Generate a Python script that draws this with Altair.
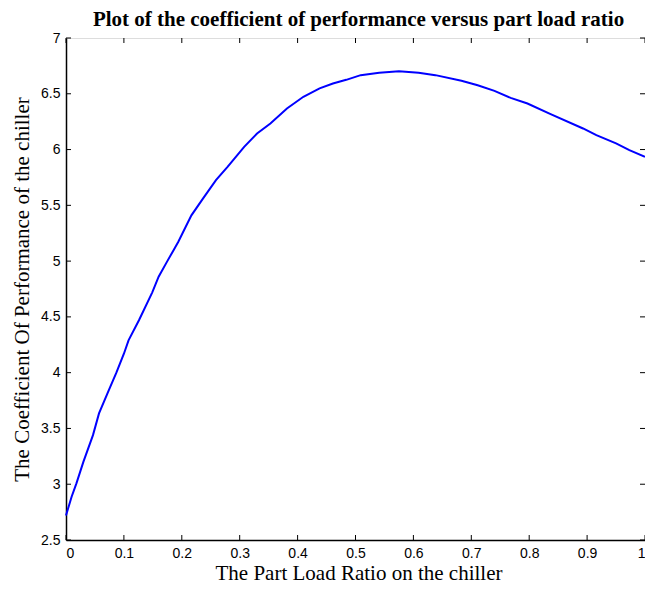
import altair as alt
import pandas as pd

# Part load ratio (x) and coefficient of performance (y)
plr = [0.0, 0.0097, 0.018, 0.03, 0.0466, 0.057, 0.074, 0.087, 0.1, 0.108, 0.126, 0.149,
       0.16, 0.175, 0.186, 0.194, 0.2166, 0.2365, 0.259, 0.279, 0.3077, 0.33, 0.353,
       0.3816, 0.41, 0.438, 0.461, 0.484, 0.509, 0.541, 0.575, 0.609, 0.638, 0.683,
       0.711, 0.74, 0.768, 0.797, 0.837, 0.893, 0.916, 0.95, 0.973, 1.0]
cop = [2.72, 2.888, 3.008, 3.2, 3.44, 3.635, 3.844, 4.0, 4.17, 4.29, 4.47, 4.72,
       4.86, 5.0, 5.10, 5.173, 5.41, 5.56, 5.726, 5.845, 6.024, 6.144, 6.234,
       6.368, 6.473, 6.548, 6.592, 6.625, 6.667, 6.688, 6.703, 6.688, 6.667, 6.616,
       6.577, 6.526, 6.463, 6.413, 6.317, 6.189, 6.129, 6.055, 5.995, 5.935]

x_ticks = [0, 0.1, 0.2, 0.3, 0.4, 0.5, 0.6, 0.7, 0.8, 0.9, 1.0]
y_ticks = [2.5, 3, 3.5, 4, 4.5, 5, 5.5, 6, 6.5, 7]

title_text = "Plot of the coefficient of performance versus part load ratio"
x_title = "The Part Load Ratio on the chiller"
y_title = "The Coefficient Of Performance of the chiller"

W, H = 579, 502
TL = 5

df = pd.DataFrame({"plr": plr, "cop": cop})
xt = pd.DataFrame({"plr": x_ticks})
yt = pd.DataFrame({"cop": y_ticks})

xs = alt.Scale(domain=[0, 1], nice=False, zero=False)
ys = alt.Scale(domain=[2.5, 7], nice=False, zero=False)

x_axis = alt.Axis(
    values=x_ticks, format=".1~f", title=x_title, grid=False, ticks=False,
    domainColor="black", domainWidth=1.5, labelPadding=6,
    labelFont="Liberation Sans", labelFontSize=14, labelColor="black",
    titleFont="Liberation Serif", titleFontSize=21, titleFontWeight="normal",
    titleColor="black", titleX=W / 2 + 3, titleY=39, titleBaseline="alphabetic")
y_axis = alt.Axis(
    values=y_ticks, format=".1~f", title=y_title, grid=False, ticks=False,
    domainColor="black", domainWidth=1.5, labelPadding=6,
    labelFont="Liberation Sans", labelFontSize=14, labelColor="black",
    titleFont="Liberation Serif", titleFontSize=21, titleFontWeight="normal",
    titleColor="black", titleX=-44, titleY=H / 2, titleAngle=-90,
    titleBaseline="middle", titleAlign="center")

X = alt.X("plr:Q", scale=xs, axis=x_axis)
Y = alt.Y("cop:Q", scale=ys, axis=y_axis)

line = alt.Chart(df).mark_line(color="#0000ff", strokeWidth=2).encode(x=X, y=Y)

bottom_ticks = alt.Chart(xt).mark_rule(color="black", strokeWidth=1).encode(
    x=X, y=alt.value(H), y2=alt.value(H - TL))
top_ticks = alt.Chart(xt).mark_rule(color="black", strokeWidth=1).encode(
    x=X, y=alt.value(0), y2=alt.value(TL))
left_ticks = alt.Chart(yt).mark_rule(color="black", strokeWidth=1).encode(
    y=Y, x=alt.value(0), x2=alt.value(TL))
right_ticks = alt.Chart(yt).mark_rule(color="black", strokeWidth=1).encode(
    y=Y, x=alt.value(W), x2=alt.value(W - TL))

chart = alt.layer(line, bottom_ticks, top_ticks, left_ticks, right_ticks).properties(
    width=W, height=H,
    title=alt.TitleParams(title_text, font="Liberation Serif", fontSize=21,
                          fontWeight="bold", color="black", anchor="middle",
                          offset=1, dx=3),
    autosize=alt.AutoSizeParams(type="none"),
    padding={"left": 58, "top": 30, "right": 0, "bottom": 44},
).configure_view(stroke="black", strokeWidth=1).configure(background="white")

chart.save("out.html", embed_options={"renderer": "svg", "actions": False})
